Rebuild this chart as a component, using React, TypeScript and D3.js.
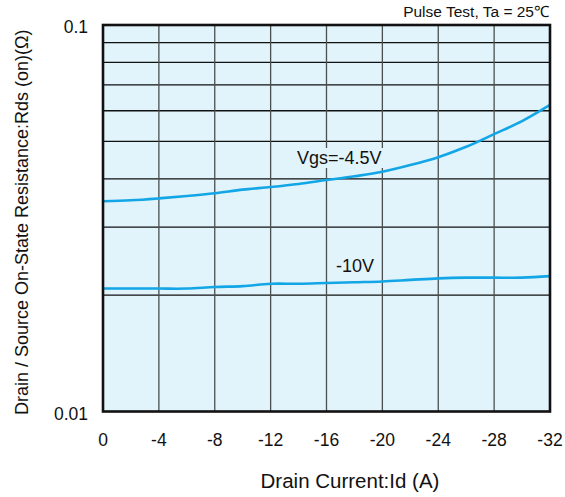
import React from 'react'
import * as d3 from 'd3'

const currents = [0, -2, -4, -6, -8, -10, -12, -14, -16, -18, -20, -22, -24, -26, -28, -30, -32]
const rdsVgs45 = [0.0350, 0.0352, 0.0356, 0.0361, 0.0367, 0.0375, 0.0381, 0.0388, 0.0397, 0.0406, 0.0417, 0.0434, 0.0455, 0.0484, 0.0522, 0.0564, 0.0621]
const rdsVgs10 = [0.0208, 0.0208, 0.0208, 0.0208, 0.0210, 0.0211, 0.0214, 0.0214, 0.0215, 0.0216, 0.0217, 0.0219, 0.0221, 0.0222, 0.0222, 0.0222, 0.0224]
const xTicks = [0, -4, -8, -12, -16, -20, -24, -28, -32]
const yGrid = [0.02, 0.03, 0.04, 0.05, 0.06, 0.07, 0.08, 0.09]
const yLabels = [
  { v: 0.1, t: '0.1' },
  { v: 0.01, t: '0.01' },
]

const W = 565
const H = 497
const font = '"Liberation Sans", Arial, Helvetica, sans-serif'

export default function App() {
  const left = 103, right = 550, top = 25, bottom = 411.5
  const x = d3.scaleLinear().domain([0, -32]).range([left, right])
  const y = d3.scaleLog().domain([0.01, 0.1]).range([bottom, top])

  const line = d3.line<number>()
    .x((_, i) => x(currents[i]))
    .y(d => y(d))
    .curve(d3.curveCatmullRom)

  const blue = '#13a6e6'

  return (
    <svg width={W} height={H} style={{ position: 'absolute', left: 0, top: 0, fontFamily: font }}>
      <rect x={0} y={0} width={W} height={H} fill="#fff" />
      <rect x={left} y={top} width={right - left} height={bottom - top} fill="#e1f3fb" />

      {yGrid.map(v => (
        <line key={v} x1={left} x2={right} y1={y(v)} y2={y(v)} stroke="#111" strokeWidth={1.3} />
      ))}
      {xTicks.slice(1, -1).map(v => (
        <line key={v} x1={x(v)} x2={x(v)} y1={top} y2={bottom} stroke="#4a4f50" strokeWidth={1.3} />
      ))}

      <path d={line(rdsVgs45) || ''} fill="none" stroke={blue} strokeWidth={2.6} />
      <path d={line(rdsVgs10) || ''} fill="none" stroke={blue} strokeWidth={2.6} />

      <rect x={left} y={top} width={right - left} height={bottom - top} fill="none" stroke="#111" strokeWidth={2.6} />

      <rect x={296} y={148} width={89} height={20} fill="#e1f3fb" />
      <text x={297} y={164} fontSize={18} fill="#111">Vgs=-4.5V</text>
      <text x={336} y={272} fontSize={18} fill="#111">-10V</text>

      {yLabels.map(d => (
        <text key={d.t} x={88} y={y(d.v) + 8} fontSize={17.5} textAnchor="end" fill="#111">{d.t}</text>
      ))}
      {xTicks.map(v => (
        <text key={v} x={x(v)} y={446} fontSize={17.5} textAnchor="middle" fill="#111">{v === 0 ? '0' : String(v)}</text>
      ))}

      <text x={350} y={488} fontSize={20.5} textAnchor="middle" fill="#111">Drain Current:Id (A)</text>
      <text transform={`translate(28,${(top + bottom) / 2 + 4}) rotate(-90)`} fontSize={18} textAnchor="middle" fill="#111">
        Drain / Source On-State Resistance:Rds (on)(Ω)
      </text>
      <text x={549} y={17} fontSize={15.5} textAnchor="end" fill="#111">Pulse Test, Ta = 25℃</text>
    </svg>
  )
}
